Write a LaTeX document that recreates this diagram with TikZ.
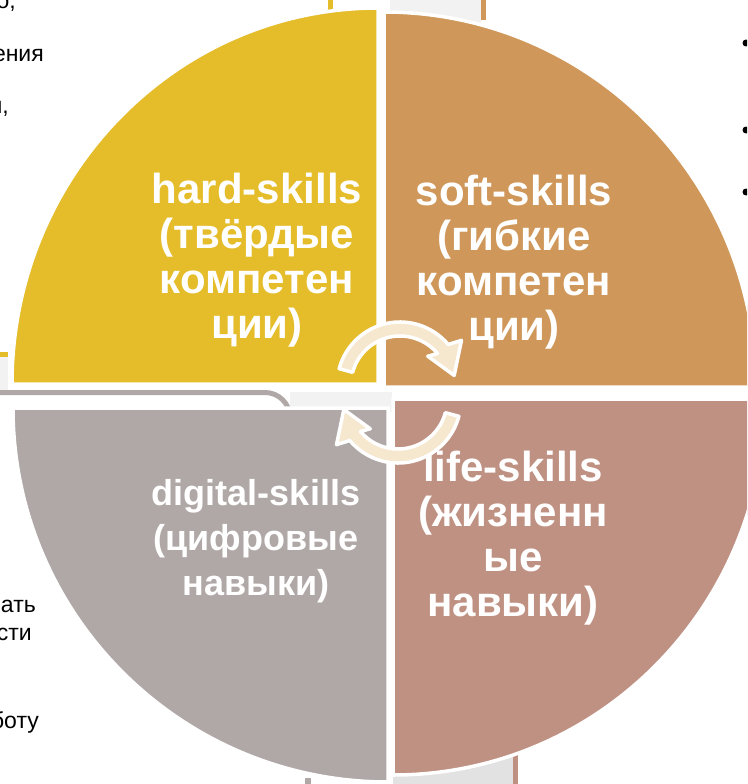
\documentclass[tikz,border=0pt]{standalone}
\usepackage{fontspec}
\setmainfont{Liberation Sans}
\usepackage{tikz}
\definecolor{hardc}{HTML}{E5BC2A}
\definecolor{softc}{HTML}{CF9759}
\definecolor{lifec}{HTML}{BF9182}
\definecolor{digitc}{HTML}{B0A8A7}
\definecolor{creamc}{HTML}{F6E7CF}
\definecolor{panelc}{HTML}{F2F2F2}
\definecolor{floorc}{HTML}{E2E2E2}
\tikzset{
    quarter/.style={draw=white, line width=3.5pt},
    skill/.style={text=white, font=\bfseries\fontsize{42}{45}\selectfont, align=center},
    cyclearrow/.style={draw=white, line width=3.5pt, fill=creamc, line join=round},
    scrap/.style={anchor=base east, inner sep=0pt, font=\fontsize{23}{28}\selectfont}
}

\begin{document}
\begin{tikzpicture}[x=1pt, y=-1pt]
            \useasboundingbox (0,0) rectangle (747,784);
            \clip (0,0) rectangle (747,784);
            % bits of the slide behind
            \fill[panelc] (390,0) rectangle (481,25);
            \fill[softc] (481,0) rectangle (486,20);
            \fill[hardc] (328,0) rectangle (333,10);
            \fill[hardc] (0,352) rectangle (8,357);
            \fill[panelc] (0,357) rectangle (8,390);
            \fill[panelc] (290,392) rectangle (392,412);
            \draw[digitc, line width=5pt] (0,392.5) -- (265,392.5) arc[start angle=270, end angle=360, radius=25] -- ++(0,20);
            \fill[floorc] (393,750) rectangle (515,784);
            \fill[lifec] (513,755) rectangle (518,784);
            \fill[digitc] (305,778) rectangle (311,784);
            \foreach \x/\y/\t [count=\i] in {16/9/{о,}, 44/62/ения, 9/113/{и,}, 36/612/ать, 32/640/сти, 39/728/боту}
                \node[scrap] (scrap\i) at (\x,\y) {\t};
            \foreach \y [count=\i] in {43,130,192}
                \fill (746,\y) circle[radius=3.5] coordinate (dot\i);
            % four quarters
            \draw[quarter, fill=hardc] (378,384) -- ++(-366,0) arc[start angle=180, end angle=270, x radius=366, y radius=376] -- cycle;
            \draw[quarter, fill=softc] (384,387) -- ++(0,-375) arc[start angle=270, end angle=360, x radius=372, y radius=375] -- cycle;
            \draw[quarter, fill=lifec] (393,399) -- ++(372,0) arc[start angle=0, end angle=90, x radius=372, y radius=376] -- cycle;
            \draw[quarter, fill=digitc] (388,408) -- ++(0,374) arc[start angle=90, end angle=180, x radius=375, y radius=374] -- cycle;
            % labels
            \node[skill] (hard) at (257,260) {hard-skills\\(твёрдые\\компетен\\ции)};
            \node[skill] (soft) at (514,262) {soft-skills\\(гибкие\\компетен\\ции)};
            \node[skill] (life) at (513,538) {life-skills\\(жизненн\\ые\\навыки)};
            \node[skill, font=\bfseries\fontsize{36}{45}\selectfont] (digital) at (256,541) {digital-skills\\(цифровые\\навыки)};
            % the two turning arrows
            \foreach \cx/\cy/\turn in {400/385/0, 398/400/180}
                \draw[cyclearrow, shift={(\cx,\cy)}, rotate=\turn] (195:63) arc[start angle=195, end angle=320, radius=63] -- (324:76) -- (350:55) -- (314:40) -- (320:49) arc[start angle=320, end angle=195, radius=49] -- cycle;
        \end{tikzpicture}
\end{document}
